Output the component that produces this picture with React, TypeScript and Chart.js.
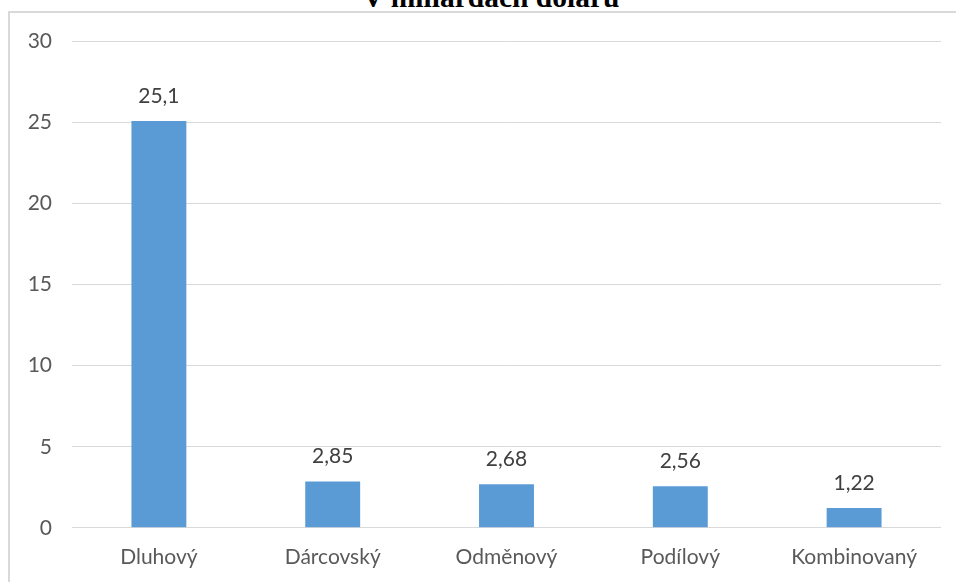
import React, { useEffect, useRef } from "react";
import { Chart, registerables } from "chart.js";

Chart.register(...registerables);

const categories = ["Dluhový", "Dárcovský", "Odměnový", "Podílový", "Kombinovaný"];
const values = [25.1, 2.85, 2.68, 2.56, 1.22];
const valueLabels = ["25,1", "2,85", "2,68", "2,56", "1,22"];
const yTicks = [0, 5, 10, 15, 20, 25, 30];
const titleText = "V miliardách dolarů";

const FONT = "Lato, 'Open Sans', sans-serif";

const valueLabelPlugin = {
  id: "valueLabels",
  afterDatasetsDraw(chart: any) {
    const ctx = chart.ctx;
    const meta = chart.getDatasetMeta(0);
    ctx.save();
    ctx.font = `21px ${FONT}`;
    ctx.fillStyle = "#404040";
    ctx.textAlign = "center";
    ctx.textBaseline = "middle";
    meta.data.forEach((bar: any, i: number) => {
      ctx.fillText(valueLabels[i], bar.x, bar.y - 25);
    });
    ctx.restore();
  },
};

export default function App() {
  const ref = useRef<HTMLCanvasElement | null>(null);
  useEffect(() => {
    if (!ref.current) return;
    const chart = new Chart(ref.current, {
      type: "bar",
      data: {
        labels: categories,
        datasets: [
          {
            data: values,
            backgroundColor: "#5b9bd5",
            borderWidth: 0,
            barPercentage: 1,
            categoryPercentage: 0.316,
          },
        ],
      },
      options: {
        animation: false,
        responsive: false,
        maintainAspectRatio: false,
        layout: { padding: { left: 0, right: 15, top: 23, bottom: 10 } },
        plugins: { legend: { display: false }, tooltip: { enabled: false }, title: { display: false } },
        scales: {
          x: {
            grid: { display: false },
            border: { display: false },
            ticks: { color: "#595959", font: { family: FONT, size: 21 }, padding: 9 },
          },
          y: {
            min: 0,
            max: 30,
            afterBuildTicks: (s: any) => {
              s.ticks = yTicks.map((v) => ({ value: v }));
            },
            afterFit: (s: any) => {
              s.width = 62;
            },
            grid: { color: "#d9d9d9", lineWidth: 1, drawTicks: false },
            border: { display: false },
            ticks: { color: "#595959", font: { family: FONT, size: 21 }, padding: 20 },
          },
        },
      },
      plugins: [valueLabelPlugin],
    });
    return () => chart.destroy();
  }, []);

  return (
    <div style={{ position: "absolute", left: 0, top: 0, width: 956, height: 582, overflow: "hidden", background: "#fff" }}>
      <div
        style={{
          position: "absolute",
          left: 13,
          top: -19,
          width: 956,
          textAlign: "center",
          fontFamily: "'Liberation Serif', 'Times New Roman', serif",
          fontWeight: "bold",
          fontSize: 29.5,
          lineHeight: "32px",
          color: "#000",
          whiteSpace: "nowrap",
        }}
      >
        {titleText}
      </div>
      <div
        style={{
          position: "absolute",
          left: 8,
          top: 11,
          width: 960,
          height: 600,
          borderLeft: "2px solid #d9d9d9",
          borderTop: "2px solid #d9d9d9",
        }}
      />
      <canvas ref={ref} width={946} height={580} style={{ position: "absolute", left: 10, top: 9 }} />
    </div>
  );
}
